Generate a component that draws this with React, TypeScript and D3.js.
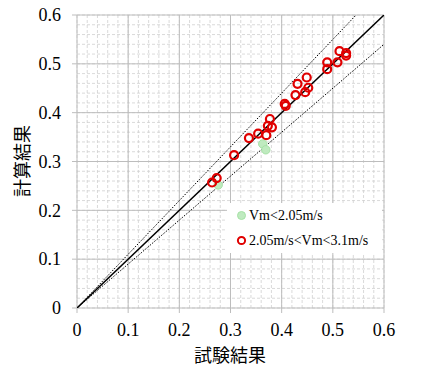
import React from "react";
import * as d3 from "d3";

// 試験結果 (x) vs 計算結果 (y)
const greenX = [0.276, 0.363, 0.369];
const greenY = [0.252, 0.336, 0.324];

const redX = [
  0.264, 0.273, 0.307, 0.336, 0.354, 0.37, 0.373, 0.377, 0.381, 0.406, 0.408,
  0.427, 0.431, 0.446, 0.449, 0.452, 0.489, 0.489, 0.509, 0.513, 0.526, 0.526,
];
const redY = [
  0.257, 0.266, 0.313, 0.348, 0.357, 0.354, 0.373, 0.387, 0.37, 0.418, 0.414,
  0.436, 0.459, 0.442, 0.472, 0.451, 0.489, 0.503, 0.503, 0.526, 0.522, 0.517,
];

const tickValues = [0, 0.1, 0.2, 0.3, 0.4, 0.5, 0.6];
const tickLabels = ["0", "0.1", "0.2", "0.3", "0.4", "0.5", "0.6"];
const minorTicks = d3.range(0, 0.6001, 0.02);
const legendLabels = ["Vm<2.05m/s", "2.05m/s<Vm<3.1m/s"];
const boundFactors = [1.1, 0.9];

const W = 421;
const H = 385;
const left = 77;
const right = 384;
const top = 15;
const bottom = 308;

const App = () => {
  const x = d3.scaleLinear().domain([0, 0.6]).range([left, right]);
  const y = d3.scaleLinear().domain([0, 0.6]).range([bottom, top]);

  const line = d3
    .line<[number, number]>()
    .x((d) => x(d[0]))
    .y((d) => y(d[1]));

  const serif = "'Liberation Serif', 'Times New Roman', serif";
  const gothic = "'Noto Sans CJK JP', sans-serif";

  return (
    <svg
      width={W}
      height={H}
      style={{ position: "absolute", left: 0, top: 0, background: "#fff" }}
    >
      <defs>
        <clipPath id="plotClip">
          <rect x={left} y={top} width={right - left} height={bottom - top} />
        </clipPath>
      </defs>

      {/* minor grid */}
      {minorTicks.map((t, i) => (
        <g key={"m" + i}>
          <line
            x1={x(t)}
            x2={x(t)}
            y1={top}
            y2={bottom}
            stroke="#d0d0d0"
            strokeWidth={0.8}
            strokeDasharray="3,2"
          />
          <line
            x1={left}
            x2={right}
            y1={y(t)}
            y2={y(t)}
            stroke="#d0d0d0"
            strokeWidth={0.8}
            strokeDasharray="3,2"
          />
        </g>
      ))}

      {/* major grid + ticks */}
      {tickValues.map((t, i) => (
        <g key={"M" + i}>
          <line x1={x(t)} x2={x(t)} y1={top} y2={bottom + 5} stroke="#bdbdbd" strokeWidth={1} />
          <line x1={left - 5} x2={right} y1={y(t)} y2={y(t)} stroke="#bdbdbd" strokeWidth={1} />
          <text
            x={left - 16}
            y={y(t)}
            dy="0.35em"
            textAnchor="end"
            fontFamily={serif}
            fontSize={18}
            fill="#000"
          >
            {tickLabels[i]}
          </text>
          <text
            x={x(t)}
            y={bottom + 28}
            textAnchor="middle"
            fontFamily={serif}
            fontSize={18}
            fill="#000"
          >
            {tickLabels[i]}
          </text>
        </g>
      ))}

      <g clipPath="url(#plotClip)">
        {boundFactors.map((f, i) => (
          <path
            key={"b" + i}
            d={line([
              [0, 0],
              [0.6, 0.6 * f],
            ]) as string}
            fill="none"
            stroke="#000"
            strokeWidth={1}
            strokeDasharray="1.5,1.5"
          />
        ))}
        <path
          d={line([
            [0, 0],
            [0.6, 0.6],
          ]) as string}
          fill="none"
          stroke="#000"
          strokeWidth={1.5}
        />
      </g>

      {greenX.map((v, i) => (
        <circle
          key={"g" + i}
          cx={x(v)}
          cy={y(greenY[i])}
          r={4.2}
          fill="#bfeabf"
          stroke="#a6e2a6"
          strokeWidth={1}
        />
      ))}
      {redX.map((v, i) => (
        <circle
          key={"r" + i}
          cx={x(v)}
          cy={y(redY[i])}
          r={4}
          fill="none"
          stroke="#e00000"
          strokeWidth={2.2}
        />
      ))}

      {/* legend */}
      <rect x={227} y={203} width={155} height={50} fill="#fff" />
      <circle cx={241.5} cy={215.5} r={4} fill="#bfeabf" stroke="#a6e2a6" strokeWidth={1} />
      <text x={249} y={215.5} dy="0.35em" fontFamily={serif} fontSize={14} fill="#000">
        {legendLabels[0]}
      </text>
      <circle cx={241.5} cy={240.5} r={3.6} fill="none" stroke="#e00000" strokeWidth={2} />
      <text x={249} y={240.5} dy="0.35em" fontFamily={serif} fontSize={14} fill="#000">
        {legendLabels[1]}
      </text>

      {/* axis titles */}
      <text
        x={230}
        y={362}
        textAnchor="middle"
        fontFamily={gothic}
        fontSize={18}
        fill="#000"
      >
        試験結果
      </text>
      <text
        transform={`translate(29,161) rotate(-90)`}
        textAnchor="middle"
        fontFamily={gothic}
        fontSize={18}
        fill="#000"
      >
        計算結果
      </text>
    </svg>
  );
};

export default App;
